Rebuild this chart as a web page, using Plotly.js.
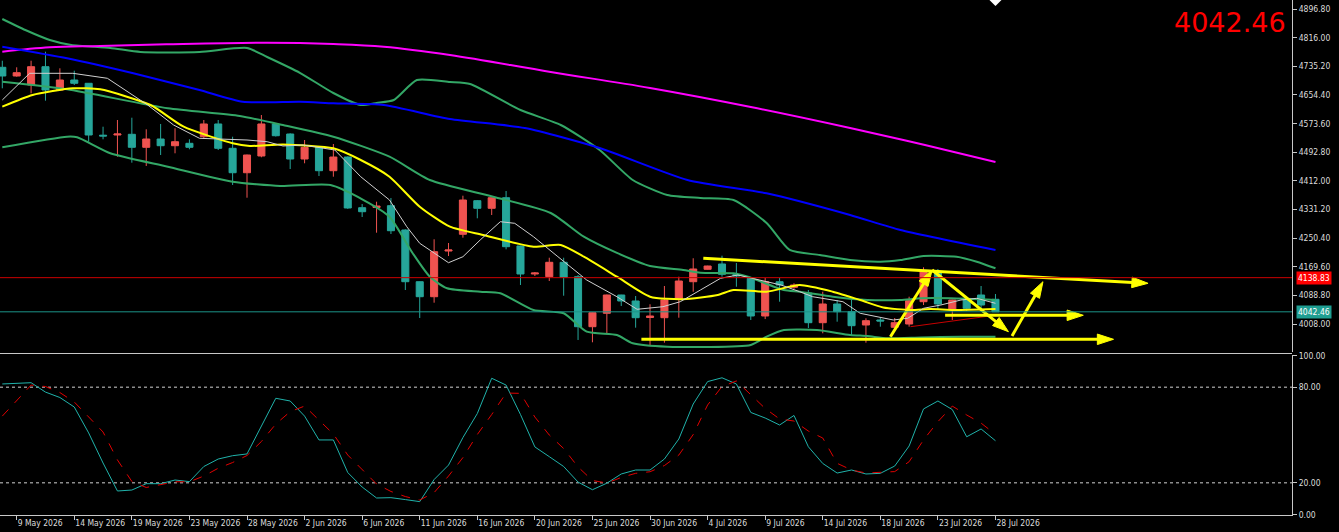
<!DOCTYPE html>
<html><head><meta charset="utf-8">
<script src="https://cdn.plot.ly/plotly-3.0.1.min.js"></script>
<style>html,body{margin:0;padding:0;background:#000;}#chart{width:1339px;height:532px;}</style>
</head><body><div id="chart"></div>
<script>
// ---- X axis labels (bar index -> date text) ----
const tickIdx = [1,5,9,13,17,21,25,29,33,37,41,45,49,53,57,61,65,69];
const tickText = ['9 May 2026','14 May 2026','19 May 2026','23 May 2026','28 May 2026','2 Jun 2026','6 Jun 2026','11 Jun 2026','16 Jun 2026','20 Jun 2026','25 Jun 2026','30 Jun 2026','4 Jul 2026','9 Jul 2026','14 Jul 2026','18 Jul 2026','23 Jul 2026','28 Jul 2026'];

// ---- Candles (daily OHLC) ----
const openP  = [4732.3,4707.8,4682.4,4734.0,4668.3,4696.5,4687.2,4540.8,4541.3,4543.3,4506.6,4530.0,4511.1,4517.9,4536.5,4572.4,4503.8,4434.9,4482.1,4572.4,4544.1,4473.6,4506.6,4440.6,4479.2,4336.2,4336.8,4341.9,4273.3,4127.4,4085.1,4214.0,4261.2,4356.0,4334.5,4364.4,4228.2,4149.2,4141.5,4182.2,4141.5,4000.5,4038.3,4089.9,4073.0,4026.4,4025.9,4077.8,4127.4,4162.4,4177.4,4147.7,4137.0,4030.7,4127.4,4111.6,4095.5,4011.8,4064.5,4042.8,4005.3,4019.4,3998.8,4008.1,4071.0,4155.6,4047.6,4075.8,4089.9,4077.8];
const highP  = [4750.9,4732.3,4750.9,4776.3,4729.5,4722.7,4688.0,4564.7,4583.6,4590.1,4557.4,4572.4,4560.2,4529.2,4583.6,4583.6,4536.5,4486.0,4597.7,4575.0,4546.0,4527.2,4508.0,4515.9,4481.0,4346.6,4353.1,4363.6,4275.0,4128.0,4247.1,4236.6,4370.1,4357.9,4365.0,4383.3,4229.0,4154.8,4195.1,4195.1,4146.3,4041.0,4091.0,4090.5,4087.1,4063.7,4115.3,4141.5,4193.5,4172.5,4200.8,4180.2,4138.0,4137.9,4137.9,4123.0,4104.0,4099.2,4075.8,4075.8,4024.2,4025.9,4025.0,4085.1,4168.1,4163.3,4076.5,4085.1,4115.3,4092.7];
const lowP   = [4673.1,4705.8,4659.0,4638.1,4667.0,4682.4,4522.4,4529.2,4480.1,4463.2,4453.9,4484.9,4489.7,4501.0,4530.0,4499.0,4400.3,4364.4,4478.4,4537.0,4445.4,4461.5,4425.6,4423.7,4333.0,4310.0,4265.7,4262.0,4104.0,4025.0,4068.2,4199.9,4251.6,4306.3,4315.6,4218.8,4118.1,4143.5,4129.4,4087.9,3963.0,3956.5,3979.0,4058.9,3997.7,3946.0,3955.3,4025.9,4099.2,4161.5,4141.5,4113.3,4019.4,4022.0,4071.0,4107.0,3996.8,3981.9,4014.6,3974.2,3955.3,4000.5,3991.2,4000.5,4061.7,4050.4,4019.4,4044.8,4047.6,4042.0];
const closeP = [4707.8,4717.1,4734.0,4668.3,4696.5,4687.2,4541.3,4538.5,4544.1,4506.6,4530.0,4511.1,4522.4,4506.6,4572.4,4503.8,4434.9,4484.9,4572.4,4539.3,4473.6,4506.6,4440.6,4479.2,4335.4,4324.9,4341.0,4271.3,4127.4,4085.1,4212.1,4216.9,4357.9,4334.5,4364.4,4226.2,4149.2,4151.9,4182.2,4139.8,4000.5,4040.0,4089.9,4073.0,4025.9,4030.7,4075.8,4129.4,4163.3,4171.7,4148.3,4143.5,4030.7,4127.4,4118.1,4118.1,4011.8,4064.5,4042.8,4003.3,4017.4,4016.6,4011.8,4073.8,4157.6,4064.5,4075.8,4052.4,4061.7,4042.46];

// ---- Indicator lines (bar index, price) ----
const bbUpperX = [0,1.6,3.3,4.8,7.5,9.6,13.7,17.0,18.4,20.7,23.0,24.9,26.0,27.2,28.8,31.1,32.5,36.0,38.8,41.5,43.8,46.2,48.5,50.8,53.1,54.7,56.8,58.9,61.0,62.4,64.0,66.3,67.7,69];
const bbUpperY = [4868.6,4837.5,4809.3,4795.2,4786.8,4775.5,4775.5,4786.8,4761.4,4716.2,4659.8,4625.9,4631.6,4640.1,4696.5,4690.8,4685.2,4611.8,4569.5,4499.0,4414.4,4372.0,4363.6,4357.9,4293.0,4216.9,4202.7,4188.6,4183.9,4188.6,4199.9,4197.9,4183.9,4165.2];
const bbMidX = [0,4.5,11.5,16.5,19.5,23.0,26.9,29.7,34.1,38.1,40.4,42.7,45.0,47.3,48.5,50.8,51.8,54.3,55.4,57.7,60.1,62.4,63.8,65.9,69];
const bbMidY = [4691.7,4670.2,4616.6,4594.9,4569.5,4536.5,4480.1,4414.4,4367.3,4321.3,4254.4,4208.6,4171.7,4160.4,4152.8,4151.1,4141.5,4104.0,4099.2,4085.1,4075.8,4075.8,4080.6,4080.6,4075.8];
const bbLowerX = [0,4.5,5.2,7.5,11.5,16.0,19.3,22.8,25.1,26.9,28.5,29.7,30.9,33.2,34.6,36.9,39.0,40.6,42.7,43.8,46.2,52.0,53.1,54.3,56.6,58.9,60.1,61.5,63.8,66.6,69];
const bbLowerY = [4506.6,4536.5,4534.8,4489.7,4451.9,4409.5,4397.4,4400.2,4357.9,4310.8,4208.4,4141.5,4108.8,4099.2,4094.7,4047.6,4038.3,3986.4,3977.1,3953.6,3944.0,3948.8,3972.3,3991.2,3991.2,3977.1,3974.2,3967.7,3970.0,3972.3,3972.3];
const maYellowX = [0,2.1,4.9,6.8,10.3,12.6,16.0,17.2,19.5,23.0,24.9,26.9,29.0,31.1,33.4,36.9,38.8,40.4,42.7,45.0,47.3,49.7,50.8,53.1,55.4,57.7,59.6,61.2,63.1,64.5,66.1,69];
const maYellowY = [4621.2,4654.2,4673.1,4670.2,4625.9,4564.7,4517.9,4510.3,4514.5,4503.8,4470.8,4423.7,4339.0,4282.6,4259.2,4226.2,4231.0,4197.9,4141.5,4085.1,4077.8,4089.9,4104.0,4099.2,4118.1,4099.2,4075.8,4054.6,4047.6,4050.4,4047.6,4050.4];
const maGreyX = [0,1.9,4.9,7.3,10.1,11.9,13.7,17.0,18.4,19.5,20.9,23.1,24.9,26.9,28.1,29.0,31.0,32.0,33.2,34.6,35.6,36.9,38.6,40.6,42.7,44.1,45.9,47.1,48.5,49.9,51.1,52.5,54.1,55.4,56.3,58.4,59.6,61.9,62.9,64.0,65.2,66.6,67.7,69];
const maGreyY = [4640.1,4715.4,4715.4,4701.3,4625.9,4569.5,4532.0,4527.2,4522.4,4510.3,4513.1,4499.0,4423.7,4357.9,4282.6,4235.8,4181.0,4197.9,4245.1,4296.7,4292.2,4254.4,4198.0,4132.2,4085.1,4049.6,4056.9,4071.0,4104.0,4137.0,4146.3,4132.2,4118.1,4099.2,4085.1,4071.0,4038.3,4019.4,4024.2,4052.4,4061.7,4075.8,4080.6,4066.5];
const maBlueX = [0,4.5,9.1,13.7,16.7,20.7,23.0,26.5,31.1,36.3,41.5,47.6,53.1,58.9,62.4,69];
const maBlueY = [4790.4,4757.7,4715.4,4668.3,4635.3,4635.3,4630.7,4625.9,4586.4,4561.1,4504.6,4414.4,4376.8,4315.6,4273.3,4216.9];
const maMagentaX = [0,3.3,6.8,11.4,18.4,23.0,26.5,31.1,38.1,45.0,52.0,58.9,64.1,69];
const maMagentaY = [4776.3,4788.8,4792.4,4797.2,4801.7,4798.0,4790.4,4767.0,4719.1,4674.0,4620.3,4561.1,4513.1,4465.2];

// ---- Stochastic oscillator ----
const stochK = [82.1,82.5,82.9,77.0,73.6,67.6,51.3,32.4,14.8,15.4,19.4,19.4,21.7,20.7,30.2,34.9,37.0,38.1,55.2,73.1,71.4,61.9,46.9,46.9,26.4,17.3,10.4,10.6,9.4,8.1,22.0,31.1,48.4,63.5,85.7,81.4,62.9,42.5,36.4,30.2,20.4,15.6,19.7,25.5,28.0,28.0,34.9,47.5,69.5,83.6,86.0,82.1,64.2,60.7,56.3,62.3,42.6,32.1,26.1,28.0,25.5,25.9,30.5,43.1,66.4,71.4,66.0,48.9,53.8,46.4];
const stochD = [61.9,72.0,81.4,80.5,76.7,70.8,61.3,51.9,34.3,20.8,17.0,18.6,20.6,20.6,24.2,29.1,32.7,37.1,45.9,56.9,64.7,68.2,59.4,50.6,37.4,28.0,19.2,14.5,11.3,9.1,13.8,24.2,35.8,50.3,62.9,76.4,76.2,61.3,50.0,41.5,29.9,21.4,19.8,23.3,25.9,26.9,30.8,37.4,50.3,68.9,80.5,84.0,75.5,66.7,60.1,58.8,52.5,48.1,32.2,28.0,26.1,26.4,27.0,33.2,46.9,58.4,68.2,62.6,57.5,50.4];
const stochLevels = [80, 20];

// ---- Axis ticks and price markers ----
const priceTicks = [4896.80,4816.00,4735.20,4654.40,4573.60,4492.80,4412.00,4331.20,4250.40,4169.60,4088.80,4008.00];
const stochTicks = [100,80,20,0];
const levelRed = 4138.83;
const levelTeal = 4042.46;

// ---- Hand-drawn yellow arrows: [fromIdx, fromPrice, toIdx, toPrice] ----
const arrowLines = [
  [48.7, 4193.5, 79.6, 4122.9],
  [65.5, 4032.7, 75.1, 4032.7],
  [44.4, 3964.9, 77.2, 3964.9],
  [61.7, 3972.3, 64.6, 4160.4],
  [64.6, 4160.4, 69.9, 3986.4],
  [70.15, 3974.2, 72.3, 4127.4]
];
const redTrend = [63.1, 4000.5, 69.1, 4033.5];

const idx = openP.map((_, i) => i);
const UP = '#ef5350', DN = '#26a69a';
const traces = [];
traces.push({
  type: 'candlestick', x: idx, open: openP, high: highP, low: lowP, close: closeP,
  xaxis: 'x', yaxis: 'y',
  increasing: {line: {color: UP, width: 1}, fillcolor: UP},
  decreasing: {line: {color: DN, width: 1}, fillcolor: DN},
  hoverinfo: 'skip'
});
function line(x, y, color, width, extra) {
  return Object.assign({type: 'scatter', mode: 'lines', x: x, y: y, xaxis: 'x', yaxis: 'y',
    line: {color: color, width: width}, hoverinfo: 'skip'}, extra || {});
}
const BB = '#33a766';
traces.push(line(bbUpperX, bbUpperY, BB, 2, {line: {color: BB, width: 2, shape: 'spline', smoothing: 0.6}}));
traces.push(line(bbMidX, bbMidY, BB, 2, {line: {color: BB, width: 2, shape: 'spline', smoothing: 0.6}}));
traces.push(line(bbLowerX, bbLowerY, BB, 2, {line: {color: BB, width: 2, shape: 'spline', smoothing: 0.6}}));
traces.push(line(maMagentaX, maMagentaY, '#ff00ff', 2, {line: {color: '#ff00ff', width: 2, shape: 'spline'}}));
traces.push(line(maBlueX, maBlueY, '#0000ff', 2, {line: {color: '#0000ff', width: 2, shape: 'spline', smoothing: 0.6}}));
traces.push(line(maYellowX, maYellowY, '#ffff00', 2, {line: {color: '#ffff00', width: 2, shape: 'spline', smoothing: 0.6}}));
traces.push(line(maGreyX, maGreyY, '#d0d0d0', 1));
traces.push(line([redTrend[0], redTrend[2]], [redTrend[1], redTrend[3]], '#c80000', 1));
arrowLines.forEach(a => {
  traces.push({type: 'scatter', mode: 'lines+markers', x: [a[0], a[2]], y: [a[1], a[3]],
    xaxis: 'x', yaxis: 'y', hoverinfo: 'skip', cliponaxis: false,
    line: {color: '#ffff00', width: 3},
    marker: {symbol: 'arrow', size: [0, 17], angleref: 'previous', color: '#ffff00', opacity: 1,
      line: {width: 1, color: '#ffff00'}}});
});
traces.push({type: 'scatter', mode: 'lines', x: idx, y: stochK, xaxis: 'x', yaxis: 'y2',
  line: {color: '#20b2aa', width: 1}, hoverinfo: 'skip'});
traces.push({type: 'scatter', mode: 'lines', x: idx, y: stochD, xaxis: 'x', yaxis: 'y2',
  line: {color: '#e00000', width: 1, dash: 'dash'}, hoverinfo: 'skip'});

const AX = '#c8c8c8';
const plotH = 515;
const shapes = [
  {type: 'line', xref: 'paper', yref: 'y', x0: 0, x1: 1, y0: levelRed, y1: levelRed, line: {color: '#cc0000', width: 1}},
  {type: 'line', xref: 'paper', yref: 'y', x0: 0, x1: 1, y0: levelTeal, y1: levelTeal, line: {color: '#1c9488', width: 1}},
  {type: 'line', xref: 'paper', yref: 'paper', x0: 0, x1: 1, y0: (plotH - 353.5) / plotH, y1: (plotH - 353.5) / plotH, line: {color: AX, width: 1}},
  {type: 'path', xref: 'x', yref: 'paper', path: 'M 68.58 1 L 69.42 1 L 69 ' + (1 - 6 / plotH) + ' Z', fillcolor: '#ffffff', line: {width: 0}}
];
stochLevels.forEach(v => shapes.push({type: 'line', xref: 'paper', yref: 'y2', x0: 0, x1: 1, y0: v, y1: v,
  layer: 'below', line: {color: '#8c8c8c', width: 1.5, dash: 'dot'}}));

const SMALL = "'DejaVu Sans Condensed', 'Liberation Sans', sans-serif";
const annotations = [
  {xref: 'paper', yref: 'y', x: 1, y: levelRed, xanchor: 'left', yanchor: 'middle', xshift: 4,
   text: levelRed.toFixed(2), showarrow: false, bgcolor: '#ff0000', borderpad: 1,
   font: {family: SMALL, color: '#ffffff', size: 8.5}},
  {xref: 'paper', yref: 'y', x: 1, y: levelTeal, xanchor: 'left', yanchor: 'middle', xshift: 4,
   text: levelTeal.toFixed(2), showarrow: false, bgcolor: '#1f9e92', borderpad: 1,
   font: {family: SMALL, color: '#ffffff', size: 8.5}},
  {xref: 'paper', yref: 'paper', x: 1288 / 1292, y: (plotH - 22) / plotH, xanchor: 'right', yanchor: 'middle',
   text: closeP[closeP.length - 1].toFixed(2), showarrow: false,
   font: {family: 'DejaVu Sans, sans-serif', size: 27, color: '#ff0000'}}
];

const layout = {
  width: 1339, height: 532,
  paper_bgcolor: '#000000', plot_bgcolor: '#000000',
  margin: {l: 0, r: 47, t: 0, b: 17, pad: 0},
  showlegend: false,
  font: {family: SMALL, size: 8.5, color: '#dcdcdc'},
  xaxis: {range: [-0.16, 89.6], anchor: 'y2', tickvals: tickIdx, ticktext: tickText, tickangle: 0,
    ticks: 'outside', ticklen: 4, tickcolor: AX, showline: true, linecolor: AX, linewidth: 1,
    showgrid: false, zeroline: false, rangeslider: {visible: false}, ticklabelposition: 'outside right', fixedrange: true},
  yaxis: {domain: [(plotH - 352) / plotH, 1], range: [3929.1, 4922.19], side: 'right', anchor: 'x',
    tickvals: priceTicks, tickformat: '.2f', ticks: 'outside', ticklen: 4, tickcolor: AX,
    showline: true, linecolor: AX, showgrid: false, zeroline: false, fixedrange: true},
  yaxis2: {domain: [0, (plotH - 355.2) / plotH], range: [-0.3, 100.2], side: 'right', anchor: 'x',
    tickvals: stochTicks, tickformat: '.2f', ticks: 'outside', ticklen: 4, tickcolor: AX,
    showline: true, linecolor: AX, showgrid: false, zeroline: false, fixedrange: true},
  shapes: shapes,
  annotations: annotations
};
Plotly.newPlot('chart', traces, layout, {staticPlot: true, displayModeBar: false});
</script>
</body></html>
